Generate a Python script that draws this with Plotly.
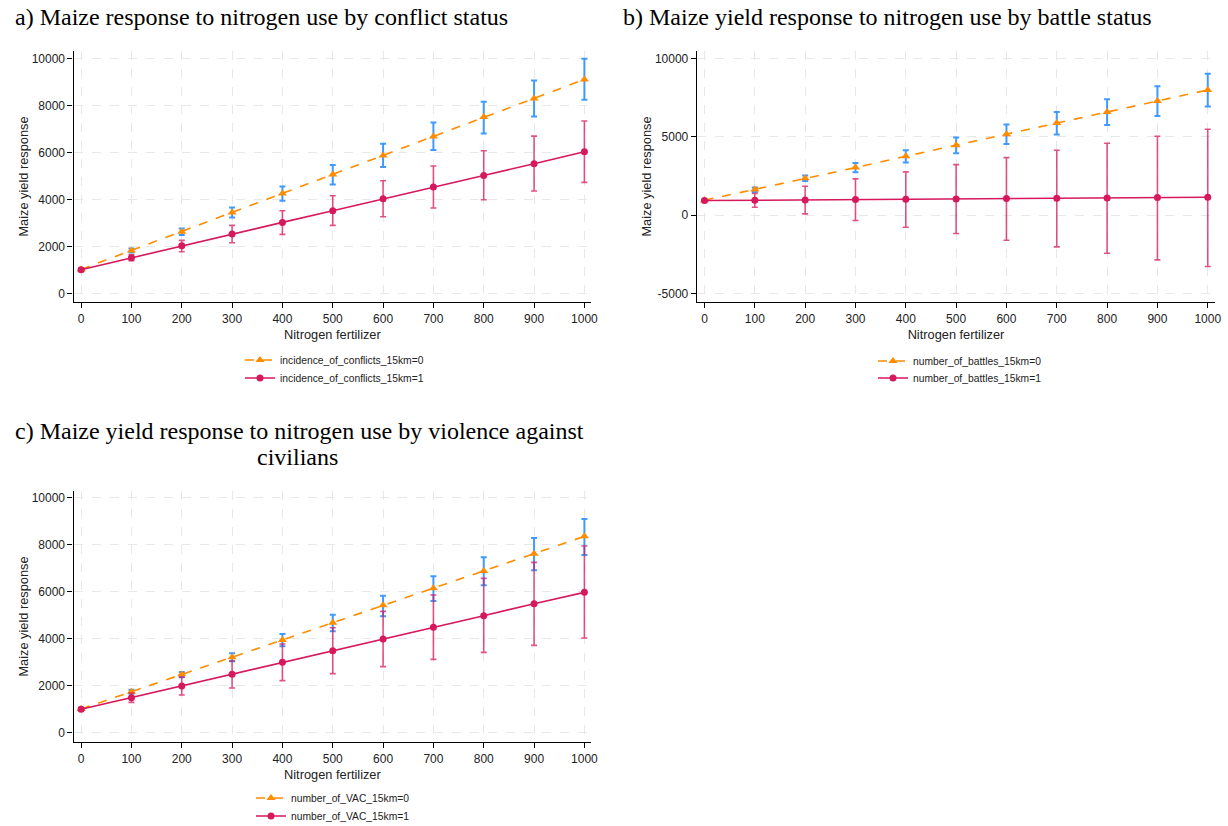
import plotly.graph_objects as go

nitrogen = [0, 100, 200, 300, 400, 500, 600, 700, 800, 900, 1000]

# Panel a: incidence of conflicts
a0_mean = [1035, 1844, 2638, 3461, 4270, 5078, 5887, 6695, 7518, 8312, 9121]
a0_hi = [1085, 1929, 2780, 3674, 4567, 5475, 6383, 7291, 8170, 9078, 10000]
a0_lo = [985, 1759, 2496, 3248, 3957, 4652, 5390, 6113, 6823, 7546, 8255]
a1_mean = [1021, 1532, 2043, 2539, 3035, 3532, 4043, 4539, 5035, 5532, 6043]
a1_hi = [1071, 1660, 2270, 2908, 3532, 4170, 4809, 5433, 6085, 6709, 7348]
a1_lo = [971, 1404, 1787, 2170, 2525, 2908, 3277, 3645, 4000, 4369, 4738]

# Panel b: number of battles
b0_mean = [955, 1635, 2357, 3036, 3758, 4459, 5159, 5881, 6582, 7282, 7983]
b0_hi = [1005, 1762, 2527, 3333, 4140, 4947, 5775, 6582, 7389, 8217, 9023]
b0_lo = [905, 1486, 2187, 2739, 3355, 3949, 4544, 5138, 5754, 6327, 6921]
b1_mean = [934, 955, 977, 998, 1019, 1040, 1062, 1083, 1104, 1125, 1146]
b1_hi = [984, 1380, 1847, 2314, 2760, 3227, 3673, 4140, 4586, 5032, 5478]
b1_lo = [884, 510, 85, -340, -764, -1168, -1592, -2017, -2420, -2845, -3270]

# Panel c: violence against civilians
c0_mean = [1020, 1756, 2493, 3215, 3952, 4688, 5425, 6147, 6884, 7620, 8357]
c0_hi = [1070, 1841, 2592, 3385, 4207, 5028, 5836, 6657, 7465, 8286, 9093]
c0_lo = [970, 1671, 2365, 3045, 3683, 4320, 4958, 5609, 6275, 6912, 7564]
c1_mean = [1006, 1501, 1997, 2493, 3003, 3499, 3994, 4490, 4986, 5496, 5977]
c1_hi = [1056, 1700, 2380, 3059, 3782, 4476, 5170, 5864, 6572, 7252, 7946]
c1_lo = [956, 1303, 1615, 1912, 2224, 2521, 2819, 3130, 3428, 3725, 4037]

titles = [
    "a) Maize response to nitrogen use by conflict status",
    "b) Maize yield response to nitrogen use by battle status",
    "c) Maize yield response to nitrogen use by violence against",
    "civilians",
]
legend_names = [
    ["incidence_of_conflicts_15km=0", "incidence_of_conflicts_15km=1"],
    ["number_of_battles_15km=0", "number_of_battles_15km=1"],
    ["number_of_VAC_15km=0", "number_of_VAC_15km=1"],
]
x_tick_vals = [0, 100, 200, 300, 400, 500, 600, 700, 800, 900, 1000]
y_ticks_ac = [0, 2000, 4000, 6000, 8000, 10000]
y_labels_ac = ["0", "2000", "4000", "6000", "8000", "10000"]
y_ticks_b = [-5000, 0, 5000, 10000]
y_labels_b = ["-5000", "0", "5000", "10000"]

ORANGE = "#ff8c00"
BLUE_CI = "rgba(30,136,255,0.85)"
RED = "#d6185d"
RED_CI = "rgba(214,24,93,0.75)"

W, H = 1228, 826
def px(x):
    return x / W
def py(y):
    return 1 - y / H

fig = go.Figure()

panels = [
    (a0_mean, a0_hi, a0_lo, a1_mean, a1_hi, a1_lo),
    (b0_mean, b0_hi, b0_lo, b1_mean, b1_hi, b1_lo),
    (c0_mean, c0_hi, c0_lo, c1_mean, c1_hi, c1_lo),
]
axis_ids = [("x", "y"), ("x2", "y2"), ("x3", "y3")]
legend_ids = [("legend", "legend2"), ("legend3", "legend4"), ("legend5", "legend6")]

for i, (m0, h0, l0, m1, h1, l1) in enumerate(panels):
    xa, ya = axis_ids[i]
    fig.add_trace(go.Scatter(
        x=nitrogen, y=m0, xaxis=xa, yaxis=ya, mode="lines+markers",
        name=legend_names[i][0], legend=legend_ids[i][0],
        line=dict(color=ORANGE, width=1.6, dash="dash"),
        marker=dict(symbol="triangle-up", size=8, color=ORANGE),
        error_y=dict(type="data", symmetric=False,
                     array=[h - m for h, m in zip(h0, m0)],
                     arrayminus=[m - l for m, l in zip(m0, l0)],
                     color=BLUE_CI, thickness=2, width=3),
    ))
    fig.add_trace(go.Scatter(
        x=nitrogen, y=m1, xaxis=xa, yaxis=ya, mode="lines+markers",
        name=legend_names[i][1], legend=legend_ids[i][1],
        line=dict(color=RED, width=1.6),
        marker=dict(symbol="circle", size=7, color=RED),
        error_y=dict(type="data", symmetric=False,
                     array=[h - m for h, m in zip(h1, m1)],
                     arrayminus=[m - l for m, l in zip(m1, l1)],
                     color=RED_CI, thickness=1.6, width=3),
    ))

tick_font = dict(family="Liberation Sans, Arial", size=12, color="#222")
axis_common = dict(
    showline=True, linecolor="black", linewidth=1.2, mirror=False,
    ticks="outside", ticklen=5, tickcolor="black", tickfont=tick_font,
    showgrid=True, gridcolor="#e8e8e8", griddash="dash", gridwidth=1,
    zeroline=False, automargin=False,
)
title_font = dict(family="Liberation Sans, Arial", size=12.8, color="#222")

dom = {
    "a": dict(x=[px(73.5), px(591.3)], y=[py(302), py(51)], xr=[-15.1, 1013.7],
              yr=[-353, 10330], yt=y_ticks_ac, yl=y_labels_ac),
    "b": dict(x=[px(696.8), px(1215.2)], y=[py(302), py(51)], xr=[-15.3, 1014.8],
              yr=[-5529, 10465], yt=y_ticks_b, yl=y_labels_b),
    "c": dict(x=[px(73.5), px(591.3)], y=[py(742), py(491)], xr=[-15.1, 1013.7],
              yr=[-383, 10285], yt=y_ticks_ac, yl=y_labels_ac),
}
names = ["", "2", "3"]
for k, key in enumerate(["a", "b", "c"]):
    d = dom[key]
    fig.layout["xaxis" + names[k]] = dict(
        domain=d["x"], range=d["xr"], tickvals=x_tick_vals,
        anchor="y" + names[k],
        title=dict(text="Nitrogen fertilizer", font=title_font, standoff=5),
        **axis_common)
    fig.layout["yaxis" + names[k]] = dict(
        domain=d["y"], range=d["yr"], tickvals=d["yt"], ticktext=d["yl"],
        anchor="x" + names[k],
        title=dict(text="Maize yield response", font=title_font, standoff=0),
        **axis_common)

legend_font = dict(family="Liberation Sans, Arial", size=10.3, color="#222")
# (legend x, row centre y) in pixels
leg_pos = [(240, 360), (240, 378), (873, 361), (873, 378), (251, 798), (251, 816)]
for k, lid in enumerate(["legend", "legend2", "legend3", "legend4", "legend5", "legend6"]):
    fig.layout[lid] = dict(
        x=px(leg_pos[k][0]), y=py(leg_pos[k][1]), xanchor="left", yanchor="middle",
        font=legend_font, bgcolor="rgba(0,0,0,0)", tracegroupgap=0,
        itemwidth=30,
    )

title_style = dict(family="Liberation Serif, Times New Roman", size=24, color="black")
fig.add_annotation(text=titles[0], x=px(13), y=py(17), xref="paper", yref="paper",
                   xanchor="left", yanchor="middle", showarrow=False, font=title_style)
fig.add_annotation(text=titles[1], x=px(621), y=py(17), xref="paper", yref="paper",
                   xanchor="left", yanchor="middle", showarrow=False, font=title_style)
fig.add_annotation(text=titles[2], x=px(299), y=py(431), xref="paper", yref="paper",
                   xanchor="center", yanchor="middle", showarrow=False, font=title_style)
fig.add_annotation(text=titles[3], x=px(297), y=py(457), xref="paper", yref="paper",
                   xanchor="center", yanchor="middle", showarrow=False, font=title_style)

fig.update_layout(
    width=W, height=H, margin=dict(l=0, r=0, t=0, b=0, autoexpand=False),
    paper_bgcolor="white", plot_bgcolor="white", showlegend=True,
)

fig.write_html("out.html", config={"displayModeBar": False},
               post_script="document.body.style.margin='0';")
